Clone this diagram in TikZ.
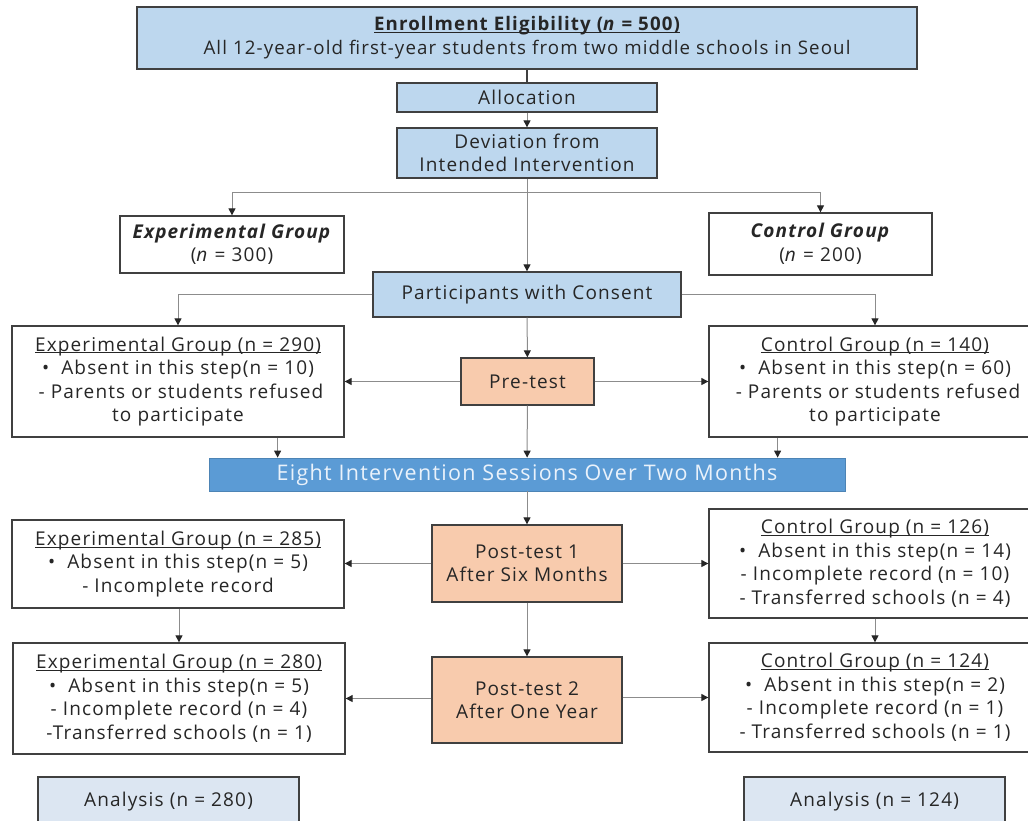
\documentclass[tikz,border=0pt]{standalone}
\usepackage{fontspec}
\setmainfont[LetterSpace=6]{Open Sans}
\usetikzlibrary{arrows.meta}
\definecolor{lblue}{HTML}{BDD7EE}
\definecolor{pblue}{HTML}{DCE6F2}
\definecolor{mblue}{HTML}{5B9BD5}
\definecolor{orng}{HTML}{F8CBAD}
\definecolor{bord}{HTML}{404040}
\definecolor{lin}{HTML}{8C8C8C}
\definecolor{bartext}{HTML}{EAF2FB}
\tikzset{
  base/.style={draw=bord, line width=1.3pt, inner sep=0pt, align=center, font=\fontsize{19}{23.5}\selectfont, text=black!85},
  bluebox/.style={base, fill=lblue},
  whitebox/.style={base, fill=white},
  orangebox/.style={base, fill=orng},
  anbox/.style={base, fill=pblue},
  barbox/.style={draw=mblue!85!black, line width=0.8pt, fill=mblue, inner sep=0pt, text=bartext, font=\fontsize{21.5}{24}\selectfont},
  conn/.style={draw=lin, line width=1pt, -{Triangle[length=7pt,width=7pt,color=black!85]}},
  plainconn/.style={draw=bord, line width=1.2pt},
}
\newcommand{\ul}[1]{\underline{\smash{#1}}\vphantom{#1}}
\begin{document}
\begin{tikzpicture}[x=1pt,y=-1pt]
\useasboundingbox (0,0) rectangle (1028,820);
% nodes
\node[bluebox, minimum width=780pt, minimum height=62pt, font=\fontsize{18.7}{24}\selectfont] (top) at (527,38)
  {\textbf{\ul{Enrollment Eligibility (\textit{n} = 500)}}\\All 12-year-old first-year students from two middle schools in Seoul};
\node[bluebox, minimum width=260pt, minimum height=29pt] (alloc) at (527,97.5) {Allocation};
\node[bluebox, minimum width=260pt, minimum height=50pt] (dev) at (527,153) {Deviation from\\Intended Intervention};
\coordinate (split) at (527,192);
\node[whitebox, minimum width=224pt, minimum height=57pt] (exp300) at (232,244.5)
  {\textbf{\textit{Experimental Group}}\\(\textit{n} = 300)};
\node[whitebox, minimum width=223pt, minimum height=62pt] (ctl200) at (820.5,244)
  {\textbf{\textit{Control Group}}\\(\textit{n} = 200)};
\node[bluebox, minimum width=308pt, minimum height=45pt] (cons) at (527,294.5) {Participants with Consent};
\node[whitebox, minimum width=332pt, minimum height=111pt] (exp290) at (178,381.5)
  {\ul{Experimental Group (n = 290)}\\\textbullet\ \ Absent in this step(n = 10)\\\ - Parents or students refused\\to participate};
\node[orangebox, minimum width=133pt, minimum height=47pt] (pre) at (527.5,381.5) {Pre-test};
\node[whitebox, minimum width=332pt, minimum height=111pt] (ctl140) at (875,381.5)
  {\ul{Control Group (n = 140)}\\\textbullet\ \ Absent in this step(n = 60)\\\ - Parents or students refused\\to participate};
\node[barbox, minimum width=636pt, minimum height=33pt] (bar) at (527,474.5) {Eight Intervention Sessions Over Two Months};
\node[orangebox, minimum width=190pt, minimum height=77pt] (post1) at (527,563.5) {Post-test 1\\After Six Months};
\node[whitebox, minimum width=332pt, minimum height=88pt] (exp285) at (178,564)
  {\ul{Experimental Group (n = 285)}\\\textbullet\ \ Absent in this step(n = 5)\\- Incomplete record};
\node[whitebox, minimum width=332pt, minimum height=109pt] (ctl126) at (875,563.5)
  {\ul{Control Group (n = 126)}\\\textbullet\ \ Absent in this step(n = 14)\\- Incomplete record (n = 10)\\- Transferred schools (n = 4)};
\node[orangebox, minimum width=190pt, minimum height=86pt] (post2) at (527,700) {Post-test 2\\After One Year};
\node[whitebox, minimum width=332pt, minimum height=111pt] (exp280) at (179,698.5)
  {\ul{Experimental Group (n = 280)}\\\textbullet\ \ Absent in this step(n = 5)\\- Incomplete record (n = 4)\\-Transferred schools (n = 1)};
\node[whitebox, minimum width=332pt, minimum height=109pt] (ctl124) at (875,697.5)
  {\ul{Control Group (n = 124)}\\\textbullet\ \ Absent in this step(n = 2)\\- Incomplete record (n = 1)\\- Transferred schools (n = 1)};
\node[anbox, minimum width=261pt, minimum height=50pt] (an1) at (168.5,802) {Analysis (n = 280)};
\node[anbox, minimum width=261pt, minimum height=50pt] (an2) at (874.5,802) {Analysis (n = 124)};
% connectors
\draw[plainconn] (top) -- (alloc);
\draw[conn] (alloc) -- (dev);
\draw[conn] (dev) -- (cons);
\draw[conn] (split) -| (exp300.north);
\draw[conn] (split) -| (ctl200.north);
\draw[conn] (cons.west) -| (exp290.north);
\draw[conn] (cons.east) -| (ctl140.north);
\draw[conn] (cons) -- (pre);
\draw[conn] (pre) -- (exp290);
\draw[conn] (pre) -- (ctl140);
\draw[conn] (pre) -- (bar);
\draw[conn] (exp290.south -| bar.north west) ++(69,0) coordinate (e1) -- (e1 |- bar.north);
\draw[conn] (ctl140.south -| bar.north west) ++(569,0) coordinate (c1) -- (c1 |- bar.north);
\draw[conn] (bar) -- (post1);
\draw[conn] (post1) -- (exp285.east |- post1);
\draw[conn] (post1) -- (ctl126.west |- post1);
\draw[conn] (exp285.south) ++(1,0) coordinate (e2) -- (e2 |- exp280.north);
\draw[conn] (ctl126) -- (ctl124);
\draw[conn] (post1) -- (post2);
\draw[conn] (post2.west |- exp280) -- (exp280.east);
\draw[conn] (post2.east |- ctl124) -- (ctl124.west);
\end{tikzpicture}
\end{document}
